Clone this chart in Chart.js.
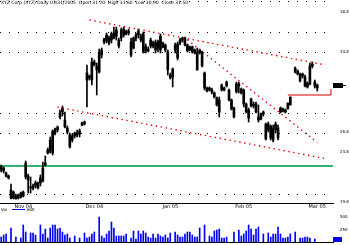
<!DOCTYPE html>
<html>
<head>
<meta charset="utf-8">
<script src="https://cdn.jsdelivr.net/npm/chart.js@4.4.1/dist/chart.umd.min.js"></script>
<style>
  html, body { margin: 0; padding: 0; background: #fff; }
  #wrap { position: relative; width: 350px; height: 245px; overflow: hidden; }
  canvas { position: absolute; left: 0; }
  #price { top: 0; }
  #volume { top: 212px; }
</style>
</head>
<body>
<div id="wrap">
  <canvas id="price" width="350" height="212"></canvas>
  <canvas id="volume" width="350" height="33"></canvas>
</div>
<script>
// daily bars, one per slot (null = no trade that day)
const opens = [
  23.4, 23.2, 22.7, 22.4, 21.0, 20.8, 20.4, 20.5, 20.7, 20.8,
  22.3, 22.4, 21.3, 21.4, 21.7, 21.7, 21.7, 21.9, 23.5, 24.7,
  24.9, 24.7, 26.7, 27.0, 28.3, 28.8, 28.0, 27.2, 26.5, 26.0,
  26.4, 26.7, 26.6, 27.7, 27.6, 32.0, 32.4, 32.0, 33.8, 33.4,
  32.8, 34.5, 35.8, 35.9, 36.2, 36.0, 36.2, 37.0, 36.0, 36.2,
  37.1, 36.9, 36.9, 35.8, 35.2, 36.2, 36.5, 36.4, 36.6, 35.4,
  35.1, 35.4, 35.7, 35.8, 35.8, 36.4, 35.7, 35.5, 34.8, 32.5,
  32.3, 35.0, 34.2, 35.7, 36.0, 36.2, 35.5, 35.3, 35.3, 35.0,
  34.7, 35.0, 34.8, 32.7, 31.2, 31.2, 31.0, 30.7, 30.2, 30.0,
  31.0, 31.2, 31.4, 31.0, 30.0, 29.2, 30.8, 31.4, 31.1, 31.0,
  29.6, 29.0, 29.4, 29.6, 29.6, 28.3, 28.6, 28.8, 27.6, 27.6,
  27.4, 27.2, 27.0, 26.2, 28.8, 29.1, 29.0, 29.1, 29.5, null,
  32.8, 32.9, 32.6, 32.4, 32.3, 31.7, 31.6, 33.6, 31.8, 31.2
];
const highs = [
  23.5, 23.3, 22.8, 22.5, 21.6, 20.9, 20.6, 20.6, 20.8, 20.9,
  23.9, 22.6, 22.3, 21.6, 21.9, 21.8, 22.5, 23.8, 24.4, 25.2,
  26.3, 27.0, 27.2, 27.4, 29.0, 29.4, 28.8, 27.4, 26.7, 26.6,
  26.8, 27.0, 27.1, 27.8, 27.9, 33.5, 32.5, 34.2, 34.0, 33.7,
  35.1, 35.2, 36.2, 36.7, 36.4, 36.8, 37.3, 37.3, 36.2, 37.2,
  37.3, 37.0, 37.1, 36.2, 36.3, 36.7, 37.1, 36.6, 36.8, 35.6,
  35.3, 36.2, 35.9, 36.0, 36.0, 36.6, 35.8, 35.6, 35.0, 32.7,
  33.2, 35.7, 35.8, 36.2, 36.3, 36.3, 35.6, 35.4, 35.4, 35.1,
  35.2, 35.1, 34.9, 32.8, 31.3, 31.3, 31.2, 30.8, 30.3, 30.3,
  31.6, 31.3, 31.9, 31.1, 30.1, 29.3, 31.8, 31.8, 31.2, 31.1,
  29.7, 29.2, 30.2, 29.8, 29.8, 29.5, 28.7, 28.9, 27.7, 27.8,
  27.5, 27.5, 27.8, 27.5, 29.3, 29.2, 29.1, 29.7, 30.3, null,
  33.3, 33.0, 32.7, 32.7, 32.5, 31.8, 33.7, 33.8, 32.0, 31.6
];
const lows = [
  22.8, 22.7, 22.3, 22.1, 20.1, 20.1, 20.1, 20.1, 20.2, 20.3,
  22.1, 20.7, 20.7, 21.0, 21.2, 21.1, 21.4, 21.8, 23.4, 24.6,
  24.7, 24.5, 26.5, 26.8, 28.1, 28.4, 27.2, 26.6, 25.2, 25.8,
  26.2, 26.3, 26.3, 27.4, 27.5, 29.3, 32.0, 31.5, 33.4, 30.5,
  32.7, 34.2, 35.6, 35.7, 35.5, 35.7, 36.1, 36.0, 35.2, 35.9,
  36.3, 36.5, 36.5, 34.3, 35.1, 35.9, 36.2, 35.8, 34.7, 34.7,
  34.8, 35.2, 35.2, 34.7, 34.8, 34.7, 35.2, 34.8, 32.5, 32.1,
  31.3, 34.7, 34.0, 35.5, 35.8, 35.4, 34.8, 34.9, 34.7, 34.6,
  33.0, 34.6, 33.3, 31.0, 30.8, 30.9, 30.6, 30.2, 29.4, 28.3,
  30.9, 30.9, 31.3, 29.9, 29.0, 28.2, 30.7, 30.7, 30.6, 29.3,
  28.7, 27.8, 29.3, 29.2, 28.7, 27.8, 28.0, 28.4, 26.0, 26.8,
  26.0, 25.8, 26.7, 26.0, 28.7, 28.8, 28.7, 29.1, 29.5, null,
  32.7, 32.5, 31.8, 32.2, 31.3, 31.2, 31.5, 33.2, 31.2, 30.9
];
const closes = [
  23.0, 22.9, 22.4, 22.2, 20.2, 20.2, 20.1, 20.2, 20.3, 20.4,
  23.7, 22.0, 21.2, 21.2, 21.4, 21.2, 22.2, 23.2, 23.7, 25.0,
  26.0, 26.9, 27.1, 27.3, 28.7, 29.2, 27.3, 26.8, 25.3, 26.4,
  26.7, 26.5, 26.9, 27.5, 27.8, 32.7, 32.2, 33.8, 33.5, 33.0,
  34.8, 35.0, 36.1, 36.5, 35.7, 36.6, 36.7, 36.4, 35.4, 37.0,
  36.5, 36.6, 36.7, 34.5, 36.2, 36.5, 36.9, 36.0, 34.8, 34.9,
  34.9, 36.0, 35.4, 35.0, 35.2, 35.0, 35.3, 35.0, 33.0, 32.2,
  33.1, 35.5, 35.6, 36.0, 36.2, 35.5, 34.9, 35.0, 34.8, 34.7,
  33.0, 34.7, 33.4, 31.2, 30.9, 31.0, 30.8, 30.3, 29.5, 28.8,
  31.5, 31.0, 31.8, 30.0, 29.1, 28.3, 31.6, 31.6, 30.7, 29.6,
  28.8, 28.2, 30.1, 29.4, 28.8, 28.0, 28.1, 28.6, 26.1, 27.0,
  26.2, 26.0, 27.6, 27.2, 29.2, 28.9, 28.8, 29.7, 30.3, null,
  33.2, 32.6, 31.9, 32.6, 31.4, 31.3, 33.4, 33.4, 31.4, 31.5
];
// volume in thousands of shares
const volumes = [
  100, 140, 160, null, 280, null, 100, null, 80, 340,
  200, null, 180, 180, 140, null, 340, 160, 260, 80,
  280, 340, 340, 260, 280, 200, 140, 160, 80, null,
  120, null, 80, null, 180, 80, 100, 160, 200, null,
  500, 120, 80, 160, 220, 400, 280, 120, 120, 120,
  120, 160, null, 80, 220, 60, 220, 160, 220, 180,
  100, 80, 160, 80, 160, 120, 100, 140, 80, 180,
  null, 200, 140, 100, 100, 160, 200, 200, 140, 100,
  100, 280, null, 340, null, 120, 100, 220, 240, 260,
  80, 80, 100, null, null, 200, null, 240, 120, 160,
  220, 340, 260, 140, 260, 300, null, 160, null, 180,
  100, 160, 160, 300, 160, 80, 80, 100, 160, null,
  200, null, 80, 80, 100, 100, 80, null, 60, null
];

const dateTickSlots = [9, 38, 69, 99, 129];
const dateTickLabels = ['Nov 04', 'Dec 04', 'Jan 05', 'Feb 05', 'Mar 05'];
const gridLevels = [39.9, 36.8, 34.8, 28.7, 26.7, 20.6];
const priceAxisLabels = [38.8, 34.8, 26.8, 24.8, 19.8];
const volumeAxisLabels = [500, 250];

// drawn studies: [slot, price] pairs
const trendUpper = [[36, 38.0], [131, 33.57]];
const trendSteep = [[76, 36.02], [129, 25.76]];
const trendLower = [[23, 29.29], [133, 24.11]];
const supportLevel = 23.4;
const targetBracket = [[117, 30.5], [134.6, 30.5], [134.6, 31.1]];

const headerText = 'XYZ Corp (XYZ) Daily 03/31/2005  Open 31.20  High 31.60  Low 30.90  Close 31.50';

const xMin = -0.49, xMax = 135.43;
const lastIdx = closes.length - 1;

Chart.defaults.font.family = '"DejaVu Sans", sans-serif';
Chart.defaults.color = '#000';

function pts(pairs) {
  return pairs.map(([x, y]) => ({ x, y }));
}

const wicks = highs.map((h, i) => (h == null ? null : { x: i, y: [lows[i], h] })).filter(Boolean);
const bodies = opens.map((o, i) => (o == null ? null : { x: i, y: [o, closes[i]] })).filter(Boolean);
const volBars = volumes.map((v, i) => (v == null ? null : { x: i, y: v })).filter(Boolean);

const priceExtras = {
  id: 'priceExtras',
  afterDraw(chart) {
    const { ctx, chartArea, scales } = chart;
    ctx.save();
    ctx.fillStyle = '#000';
    ctx.font = '4.5px "DejaVu Sans"';
    ctx.textBaseline = 'top';
    ctx.textAlign = 'left';
    ctx.fillText(headerText, 1, 1);

    ctx.font = '4px "DejaVu Sans"';
    ctx.textBaseline = 'middle';
    priceAxisLabels.forEach((v) => {
      ctx.fillText(v.toFixed(1), chartArea.right + 7, scales.y.getPixelForValue(v));
    });

    // last price marker
    const y = Math.round(scales.y.getPixelForValue(closes[lastIdx]));
    ctx.fillRect(chartArea.right, y - 2, 10, 5);
    ctx.fillRect(chartArea.right + 10, y, 3, 1);

    // volume legend under the dates
    ctx.textBaseline = 'alphabetic';
    ctx.fillText('Vol', 1, 211);
    ctx.fillStyle = '#0000ff';
    ctx.fillRect(12, 209, 13, 1);
    ctx.fillStyle = '#000';
    ctx.fillText('60K', 27, 211);
    ctx.restore();
  }
};

new Chart(document.getElementById('price'), {
  type: 'bar',
  data: {
    datasets: [
      { type: 'line', data: [{ x: xMin, y: supportLevel }, { x: xMax, y: supportLevel }],
        borderColor: '#2fb56d', borderWidth: 2, pointRadius: 0, order: 5 },
      { data: wicks, backgroundColor: '#000', barThickness: 1, grouped: false, order: 2 },
      { data: bodies, backgroundColor: '#000', barThickness: 2, minBarLength: 1, grouped: false, order: 1 },
      { type: 'line', data: pts(trendUpper), borderColor: '#ee0000', borderWidth: 1.4,
        borderDash: [1.4, 3.6], pointRadius: 0, order: 0 },
      { type: 'line', data: pts(trendSteep), borderColor: '#ee0000', borderWidth: 1.4,
        borderDash: [1.4, 3.6], pointRadius: 0, order: 0 },
      { type: 'line', data: pts(trendLower), borderColor: '#ee0000', borderWidth: 1.4,
        borderDash: [1.4, 3.6], pointRadius: 0, order: 0 },
      { type: 'line', data: pts(targetBracket), borderColor: '#e00000', borderWidth: 1,
        pointRadius: 0, tension: 0, order: 0 }
    ]
  },
  options: {
    responsive: false,
    animation: false,
    devicePixelRatio: 1,
    layout: { padding: 0 },
    plugins: { legend: { display: false }, tooltip: { enabled: false } },
    scales: {
      x: {
        type: 'linear', min: xMin, max: xMax, offset: false,
        grid: { display: false, drawTicks: false, offset: false },
        border: { display: true, color: '#000', width: 1 },
        ticks: { font: { size: 5 }, padding: 1, maxRotation: 0, autoSkip: false,
          callback: (v, i) => dateTickLabels[i] },
        afterBuildTicks: (s) => { s.ticks = dateTickSlots.map((v) => ({ value: v })); },
        afterFit: (s) => { s.height = 9; }
      },
      y: {
        position: 'right', min: 19.7, max: 40,
        grid: { color: '#000', lineWidth: 1, drawTicks: false },
        border: { display: false, dash: [1, 8] },
        ticks: { display: false },
        afterBuildTicks: (s) => { s.ticks = gridLevels.map((v) => ({ value: v })); },
        afterFit: (s) => { s.width = 17; }
      }
    }
  },
  plugins: [priceExtras]
});

const volumeExtras = {
  id: 'volumeExtras',
  afterDraw(chart) {
    const { ctx, chartArea, scales } = chart;
    ctx.save();
    ctx.font = '4px "DejaVu Sans"';
    ctx.fillStyle = '#000';
    ctx.textBaseline = 'middle';
    volumeAxisLabels.forEach((v) => {
      ctx.fillText(String(v), chartArea.right + 7, scales.y.getPixelForValue(v));
    });
    let last = volumes.length - 1;
    while (volumes[last] == null) last--;
    const y = Math.round(scales.y.getPixelForValue(volumes[last]));
    ctx.fillStyle = '#0000ff';
    ctx.fillRect(chartArea.right, y - 2, 9, 5);
    ctx.restore();
  }
};

new Chart(document.getElementById('volume'), {
  type: 'bar',
  data: {
    datasets: [
      { data: volBars, backgroundColor: '#0000ff', barThickness: 1, grouped: false }
    ]
  },
  options: {
    responsive: false,
    animation: false,
    devicePixelRatio: 1,
    layout: { padding: { top: 1 } },
    plugins: { legend: { display: false }, tooltip: { enabled: false } },
    scales: {
      x: {
        type: 'linear', min: xMin, max: xMax, offset: false,
        grid: { display: false, drawTicks: false, offset: false },
        border: { display: true, color: '#000', width: 1 },
        ticks: { display: false },
        afterFit: (s) => { s.height = 3; }
      },
      y: {
        position: 'right', min: 0, max: 580,
        grid: { display: false, drawTicks: false },
        border: { display: false },
        ticks: { display: false },
        afterFit: (s) => { s.width = 17; }
      }
    }
  },
  plugins: [volumeExtras]
});
</script>
</body>
</html>
